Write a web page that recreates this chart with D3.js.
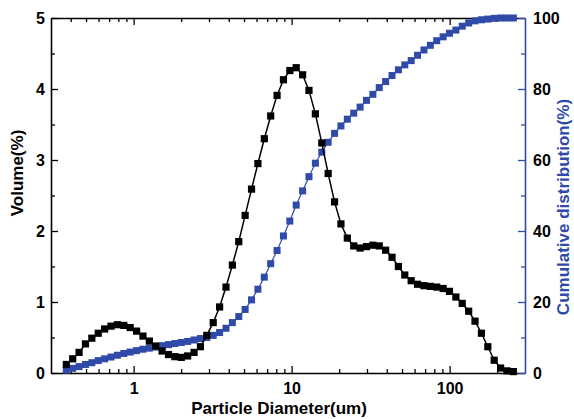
<!DOCTYPE html>
<html>
<head>
<meta charset="utf-8">
<script src="https://cdnjs.cloudflare.com/ajax/libs/d3/7.8.5/d3.min.js"></script>
<style>
  body { margin: 0; background: #fff; }
  svg text { font-family: "Liberation Sans", Arial, sans-serif; font-weight: bold; }
</style>
</head>
<body>
<div id="vizz"></div>
<script>
//DATA
// particle diameter (um)
var diameter = [0.375, 0.4115, 0.4517, 0.4958, 0.5441, 0.5972, 0.6555, 0.7194, 0.7896, 0.8667,
  0.9512, 1.044, 1.146, 1.258, 1.380, 1.515, 1.663, 1.825, 2.003, 2.198,
  2.413, 2.648, 2.906, 3.190, 3.501, 3.843, 4.217, 4.629, 5.080, 5.576,
  6.119, 6.717, 7.372, 8.091, 8.879, 9.743, 10.69, 11.74, 12.88, 14.14,
  15.52, 17.03, 18.70, 20.52, 22.52, 24.72, 27.13, 29.77, 32.68, 35.86,
  39.36, 43.20, 47.41, 52.03, 57.11, 62.67, 68.79, 75.50, 82.86, 90.94,
  99.82, 109.6, 120.2, 132.0, 144.8, 159.0, 174.5, 191.5, 210.2, 230.7, 253.2];

// volume (%)
var volume = [0.12, 0.20, 0.29, 0.41, 0.49, 0.56, 0.62, 0.66, 0.68, 0.67,
  0.64, 0.59, 0.52, 0.45, 0.38, 0.31, 0.26, 0.23, 0.22, 0.24,
  0.29, 0.37, 0.53, 0.71, 0.93, 1.21, 1.52, 1.85, 2.22, 2.59,
  2.95, 3.30, 3.62, 3.91, 4.13, 4.26, 4.30, 4.20, 3.98, 3.65,
  3.24, 2.81, 2.41, 2.10, 1.90, 1.79, 1.76, 1.78, 1.80, 1.79,
  1.73, 1.63, 1.50, 1.38, 1.30, 1.25, 1.23, 1.22, 1.21, 1.19,
  1.15, 1.07, 0.98, 0.87, 0.73, 0.56, 0.37, 0.18, 0.07, 0.03, 0.02];

// cumulative distribution (%)
var cumulative = [0.8, 1.3, 1.8, 2.4, 2.9, 3.5, 4.0, 4.5, 5.0, 5.5,
  5.9, 6.3, 6.7, 7.0, 7.3, 7.7, 8.0, 8.3, 8.6, 8.9,
  9.3, 9.7, 10.0, 10.6, 11.4, 12.6, 14.2, 15.9, 17.9, 20.6,
  23.6, 27.0, 30.8, 34.5, 38.6, 42.8, 47.3, 51.3, 55.3, 59.1,
  62.2, 65.0, 67.5, 69.6, 71.5, 73.2, 74.9, 76.8, 78.5, 80.4,
  82.1, 83.8, 85.4, 86.8, 88.0, 89.5, 91.0, 92.3, 93.6, 94.7,
  95.7, 96.6, 97.7, 98.6, 99.2, 99.5, 99.7, 99.9, 100, 100, 100];

// tick labels
var xMajor = [1, 10, 100];
var xMinor = [0.4, 0.5, 0.6, 0.7, 0.8, 0.9, 2, 3, 4, 5, 6, 7, 8, 9,
  20, 30, 40, 50, 60, 70, 80, 90, 200];
var yLeftMajor = [0, 1, 2, 3, 4, 5];
var yLeftMinor = [0.5, 1.5, 2.5, 3.5, 4.5];
var yRightMajor = [0, 20, 40, 60, 80, 100];
var yRightMinor = [10, 30, 50, 70, 90];

var blue = "#2f4aa8";

//SETUP
var margin = {top: 18, right: 49, bottom: 46, left: 51},
    width = 574 - margin.left - margin.right,
    height = 419 - margin.top - margin.bottom;

var svg = d3.select("#vizz")
  .append("svg")
    .attr("width", 574)
    .attr("height", 419)
  .append("g")
    .attr("transform", "translate(" + margin.left + "," + margin.top + ")");

var x = d3.scaleLog().domain([0.3, 300]).range([0, width]);
var yL = d3.scaleLinear().domain([0, 5]).range([height, 0]);
var yR = d3.scaleLinear().domain([0, 100]).range([height, 0]);

var rows = diameter.map(function(d, i) { return {d: d, v: volume[i], c: cumulative[i]}; });

//AXES
function styleAxis(g, colour) {
  g.selectAll("path").attr("stroke", colour).attr("stroke-width", 1.6);
  g.selectAll("line").attr("stroke", colour).attr("stroke-width", 1.3);
  g.selectAll("text").attr("fill", "#000").style("font-size", "16px");
}

// bottom
var gx = svg.append("g").attr("transform", "translate(0," + height + ")")
  .call(d3.axisBottom(x).tickValues(xMajor).tickFormat(d3.format("d")).tickSize(-7).tickPadding(10).tickSizeOuter(0));
styleAxis(gx, "#000");
svg.append("g").attr("transform", "translate(0," + height + ")")
  .call(d3.axisBottom(x).tickValues(xMinor).tickFormat("").tickSize(-4).tickSizeOuter(0))
  .call(function(g) { g.select("path").remove(); styleAxis(g, "#000"); });

// top
var gt = svg.append("g")
  .call(d3.axisTop(x).tickValues(xMajor).tickFormat("").tickSize(-7).tickSizeOuter(0));
styleAxis(gt, "#000");
svg.append("g")
  .call(d3.axisTop(x).tickValues(xMinor).tickFormat("").tickSize(-4).tickSizeOuter(0))
  .call(function(g) { g.select("path").remove(); styleAxis(g, "#000"); });

// left
var gy = svg.append("g")
  .call(d3.axisLeft(yL).tickValues(yLeftMajor).tickFormat(d3.format("d")).tickSize(-7).tickPadding(6).tickSizeOuter(0));
styleAxis(gy, "#000");
svg.append("g")
  .call(d3.axisLeft(yL).tickValues(yLeftMinor).tickFormat("").tickSize(-4).tickSizeOuter(0))
  .call(function(g) { g.select("path").remove(); styleAxis(g, "#000"); });

// right
var gr = svg.append("g").attr("transform", "translate(" + width + ",0)")
  .call(d3.axisRight(yR).tickValues(yRightMajor).tickFormat(d3.format("d")).tickSize(-7).tickPadding(8).tickSizeOuter(0));
styleAxis(gr, blue);
svg.append("g").attr("transform", "translate(" + width + ",0)")
  .call(d3.axisRight(yR).tickValues(yRightMinor).tickFormat("").tickSize(-4).tickSizeOuter(0))
  .call(function(g) { g.select("path").remove(); styleAxis(g, blue); });

//TITLES
svg.append("text")
  .attr("x", 279 - margin.left).attr("y", 414 - margin.top)
  .attr("text-anchor", "middle").style("font-size", "17px")
  .text("Particle Diameter(um)");

svg.append("text")
  .attr("transform", "translate(" + (23 - margin.left) + "," + (173 - margin.top) + ")rotate(-90)")
  .attr("text-anchor", "middle").style("font-size", "17px")
  .text("Volume(%)");

svg.append("text")
  .attr("transform", "translate(" + (569 - margin.left) + "," + (207 - margin.top) + ")rotate(-90)")
  .attr("text-anchor", "middle").style("font-size", "17px").attr("fill", blue)
  .text("Cumulative distribution(%)");

//CUMULATIVE SERIES
svg.append("path")
  .datum(rows)
  .attr("fill", "none").attr("stroke", blue).attr("stroke-width", 1.2)
  .attr("d", d3.line().x(function(d) { return x(d.d); }).y(function(d) { return yR(d.c); }));
svg.selectAll("rect.cum")
  .data(rows).enter().append("rect")
    .attr("class", "cum")
    .attr("x", function(d) { return x(d.d) - 3.5; })
    .attr("y", function(d) { return yR(d.c) - 3.5; })
    .attr("width", 7).attr("height", 7)
    .attr("fill", blue);

//VOLUME SERIES
svg.append("path")
  .datum(rows)
  .attr("fill", "none").attr("stroke", "#000").attr("stroke-width", 1.5)
  .attr("d", d3.line().x(function(d) { return x(d.d); }).y(function(d) { return yL(d.v); }));
svg.selectAll("rect.vol")
  .data(rows).enter().append("rect")
    .attr("class", "vol")
    .attr("x", function(d) { return x(d.d) - 3.6; })
    .attr("y", function(d) { return yL(d.v) - 3.6; })
    .attr("width", 7.2).attr("height", 7.2)
    .attr("fill", "#000");
</script>
</body>
</html>
